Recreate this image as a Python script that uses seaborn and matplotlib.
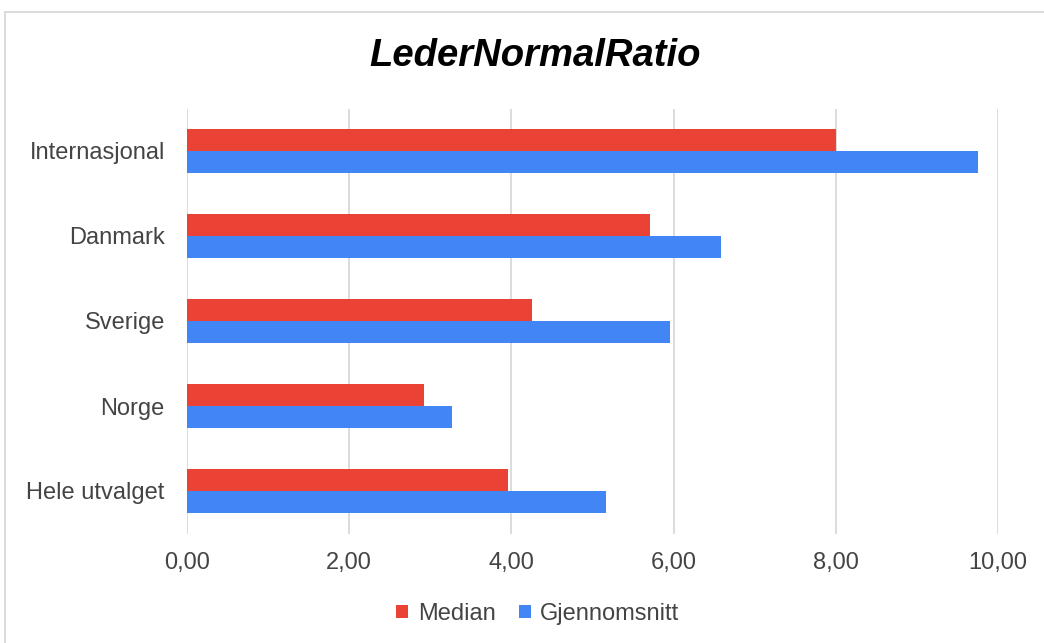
import matplotlib
matplotlib.use("Agg")
import matplotlib.pyplot as plt
from matplotlib.lines import Line2D
from matplotlib.patches import Patch
import pandas as pd
import seaborn as sns

# Data
categories = ["Internasjonal", "Danmark", "Sverige", "Norge", "Hele utvalget"]
median = [8.00, 5.71, 4.25, 2.92, 3.96]
gjennomsnitt = [9.75, 6.58, 5.96, 3.27, 5.17]
series_names = ["Median", "Gjennomsnitt"]
x_ticks = [0, 2, 4, 6, 8, 10]
x_tick_labels = ["0,00", "2,00", "4,00", "6,00", "8,00", "10,00"]
title = "LederNormalRatio"

colors = {"Median": "#EA4335", "Gjennomsnitt": "#4285F4"}
text_color = "#444444"
grid_color = "#d9d9d9"

df = pd.DataFrame({
    "Kategori": categories * 2,
    "Verdi": median + gjennomsnitt,
    "Serie": [series_names[0]] * len(categories) + [series_names[1]] * len(categories),
})

sns.set_theme(style="white")
plt.rcParams["font.family"] = ["Liberation Sans", "DejaVu Sans"]

W, H = 1044, 643
fig = plt.figure(figsize=(W / 100, H / 100), dpi=100)
ax = fig.add_axes([187 / W, 1 - 533.5 / H, (998 - 187) / W, (533.5 - 108.5) / H])

sns.barplot(
    data=df, y="Kategori", x="Verdi", hue="Serie", orient="h",
    order=categories, hue_order=series_names, palette=colors,
    width=0.52, saturation=1, linewidth=0, ax=ax, legend=False,
)

ax.set_xlim(0, 10)
ax.set_xticks(x_ticks)
ax.set_xticklabels(x_tick_labels)
ax.set_xlabel("")
ax.set_ylabel("")
ax.xaxis.grid(True, color=grid_color, linewidth=1.3)
ax.yaxis.grid(False)
ax.set_axisbelow(True)
for side in ["top", "right", "bottom", "left"]:
    ax.spines[side].set_visible(False)
ax.tick_params(axis="x", length=0, pad=13, labelsize=17, labelcolor=text_color)
ax.tick_params(axis="y", length=0, pad=16, labelsize=17, labelcolor=text_color)

# Title
fig.text(535 / W, 1 - 56 / H, title, ha="center", va="center",
         fontsize=27.5, fontweight="bold", fontstyle="italic", color="black")

# Legend under the axis
handles = [Patch(facecolor=colors[s], edgecolor="none") for s in series_names]
fig.legend(handles, series_names, loc="center", bbox_to_anchor=(538 / W, 1 - 614 / H),
           ncol=2, frameon=False, fontsize=17, labelcolor=text_color,
           handlelength=0.5, handleheight=0.5, handletextpad=0.4,
           columnspacing=1.0)

# Outer chart frame
fig.add_artist(Line2D([4.5 / W, 4.5 / W], [0, 1 - 11.5 / H], color=grid_color,
                      linewidth=1.3, transform=fig.transFigure))
fig.add_artist(Line2D([4.5 / W, 1], [1 - 11.5 / H, 1 - 11.5 / H], color=grid_color,
                      linewidth=1.3, transform=fig.transFigure))

fig.savefig("out.png", dpi=100, facecolor="white")
